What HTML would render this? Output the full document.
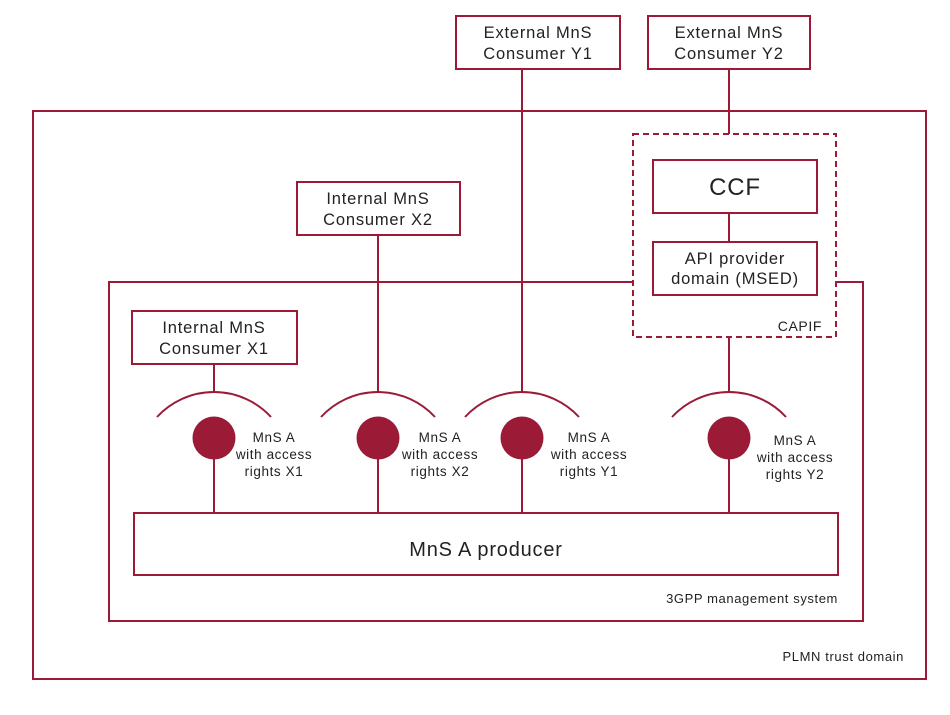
<!DOCTYPE html>
<html><head><meta charset="utf-8"><style>
html,body{margin:0;padding:0;background:#fff;}
svg{display:block;}
text{font-family:"Liberation Sans",sans-serif;fill:#222;}
</style></head><body>
<svg width="950" height="715" viewBox="0 0 950 715" xmlns="http://www.w3.org/2000/svg">
<g fill="none" stroke="#9b1b37" stroke-width="2">
<rect x="33" y="111" width="893" height="568"/>
<path d="M634 282 H109 V621 H863 V282 H836"/>
<rect x="456" y="16" width="164" height="53"/>
<rect x="648" y="16" width="162" height="53"/>
<rect x="633" y="134" width="203" height="203" stroke-dasharray="6,4"/>
<rect x="653" y="160" width="164" height="53"/>
<rect x="653" y="242" width="164" height="53"/>
<rect x="297" y="182" width="163" height="53"/>
<rect x="132" y="311" width="165" height="53"/>
<rect x="134" y="513" width="704" height="62"/>
<path d="M522 69 V392 M729 69 V134 M729 213 V242 M729 337 V392 M378 235 V392 M214 364 V392"/>
<path d="M214 438 V513 M378 438 V513 M522 438 V513 M729 438 V513"/>
<path d="M157 417 A77.5 77.5 0 0 1 271 417"/>
<path d="M321 417 A77.5 77.5 0 0 1 435 417"/>
<path d="M465 417 A77.5 77.5 0 0 1 579 417"/>
<path d="M672 417 A77.5 77.5 0 0 1 786 417"/>
</g>
<g fill="#9b1b37">
<circle cx="214" cy="438" r="21.5"/>
<circle cx="378" cy="438" r="21.5"/>
<circle cx="522" cy="438" r="21.5"/>
<circle cx="729" cy="438" r="21.5"/>
</g>
<g font-size="16.5" text-anchor="middle" letter-spacing="0.8">
<text x="538" y="38">External MnS</text><text x="538" y="59">Consumer Y1</text>
<text x="729" y="38">External MnS</text><text x="729" y="59">Consumer Y2</text>
<text x="378" y="204">Internal MnS</text><text x="378" y="225">Consumer X2</text>
<text x="214" y="333">Internal MnS</text><text x="214" y="354">Consumer X1</text>
<text x="735" y="264">API provider</text><text x="735" y="284">domain (MSED)</text>
<text x="735" y="195" font-size="24">CCF</text>
<text x="486" y="556" font-size="20">MnS A producer</text>
</g>
<g font-size="13.5" text-anchor="middle" letter-spacing="0.6">
<text x="274" y="442">MnS A</text><text x="274" y="459">with access</text><text x="274" y="476">rights X1</text>
<text x="440" y="442">MnS A</text><text x="440" y="459">with access</text><text x="440" y="476">rights X2</text>
<text x="589" y="442">MnS A</text><text x="589" y="459">with access</text><text x="589" y="476">rights Y1</text>
<text x="795" y="445">MnS A</text><text x="795" y="462">with access</text><text x="795" y="479">rights Y2</text>
</g>
<g font-size="13" text-anchor="end" letter-spacing="0.6">
<text x="822" y="331" font-size="14">CAPIF</text>
<text x="838" y="603">3GPP management system</text>
<text x="904" y="661">PLMN trust domain</text>
</g>
</svg>
</body></html>
